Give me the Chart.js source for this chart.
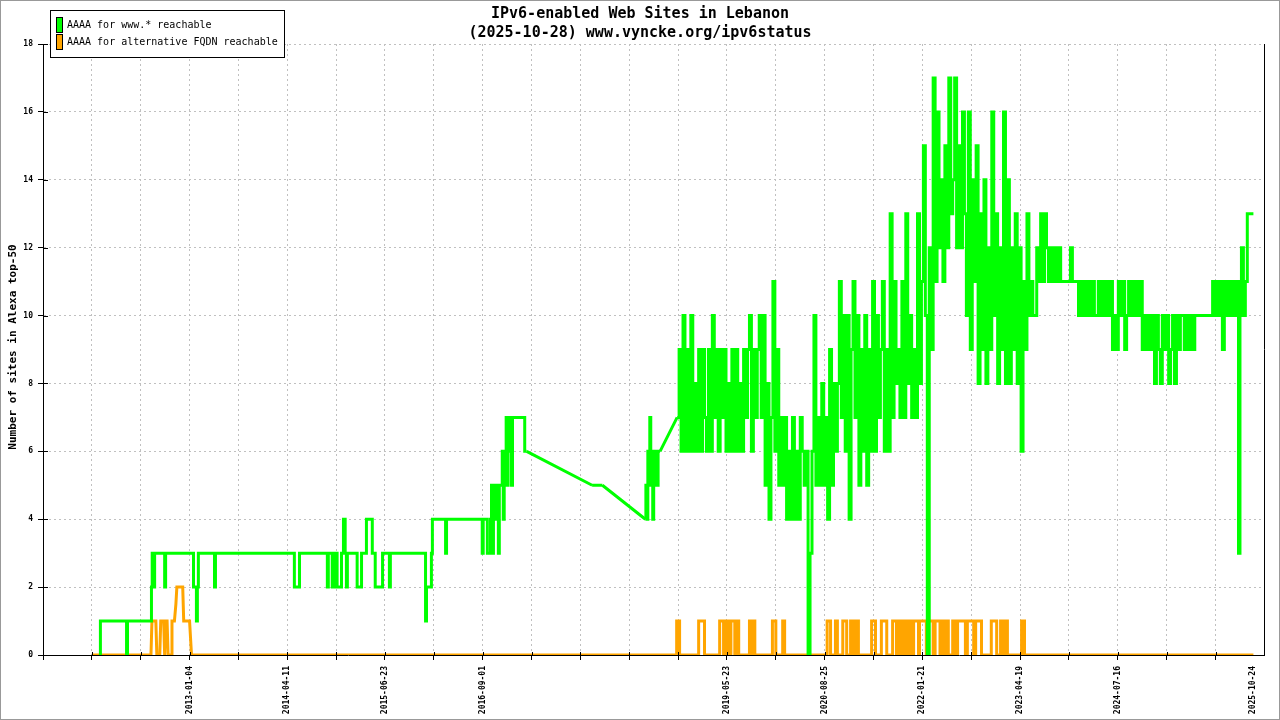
<!DOCTYPE html>
<html><head><meta charset="utf-8">
<script src="https://cdn.jsdelivr.net/npm/chart.js@4.4.1/dist/chart.umd.min.js"></script>
<style>html,body{margin:0;padding:0;background:#fff;}canvas{display:block;}</style>
</head><body>
<canvas id="c" width="1280" height="720"></canvas>
<script>
const titleLines = ['IPv6-enabled Web Sites in Lebanon', '(2025-10-28) www.vyncke.org/ipv6status'];
const yAxisTitle = 'Number of sites in Alexa top-50';
const seriesLabels = ['AAAA for www.* reachable', 'AAAA for alternative FQDN reachable'];
const seriesColors = ['#00ff00', '#ffa500'];
const xTickValues = [30, 50, 70, 90, 140, 160, 180, 200, 220, 247.75];
const xTickLabels = ['2013-01-04', '2014-04-11', '2015-06-23', '2016-09-01', '2019-05-23', '2020-08-25', '2022-01-21', '2023-04-19', '2024-07-16', '2025-10-24'];

// x positions (in axis units) after which the record has a gap (drawn as a straight line)
const wwwGapStarts = [99.0, 112.4, 114.5, 126.3];

const wwwReachable = [
[11.6,0],[11.9,1],[17.0,1],[17.2,0],[17.4,1],[22.1,1],[22.3,2],[22.4,3],[22.5,2],[22.7,3],[22.8,2],[22.9,3],[24.8,3],[25.0,2],[25.2,3],
[30.7,3],[30.9,2],[31.3,2],[31.5,1],[31.7,2],[31.9,3],[35.0,3],[35.2,2],[35.4,3],[51.3,3],[51.6,2],[52.4,2],[52.6,3],
[58.1,3],[58.3,2],[58.5,3],[59.1,3],[59.3,2],[59.5,3],[59.9,2],[60.1,3],[60.3,2],[60.9,2],[61.3,3],[61.7,4],[62.0,3],[62.2,2],[62.4,3],
[64.2,3],[64.4,2],[65.1,2],[65.3,3],[66.1,3],[66.3,4],[67.3,4],[67.5,3],[67.9,3],[68.1,2],[69.4,2],[69.6,3],[70.8,3],[71.0,2],[71.2,3],
[78.2,3],[78.4,1],[78.6,2],[79.4,2],[79.6,3],[79.8,4],[82.3,4],[82.5,3],[82.7,4],[89.8,4],[90.0,3],[90.2,4],[90.9,4],[91.0,3],[91.5,3],
[91.7,4],[91.9,5],[92.1,3],[92.3,5],[92.7,5],[92.9,4],[93.1,5],[93.3,3],[93.5,5],[93.9,5],[94.1,6],[94.3,4],[94.5,6],[94.7,5],[94.9,7],
[95.1,5],[95.3,7],[95.5,6],[95.8,7],[96.0,5],[96.2,7],[98.5,7],[98.7,6],[99.0,6],[112.4,5],[114.5,5],[123.3,4],[123.5,5],[123.7,4],
[123.9,6],[124.1,5],[124.3,7],[124.5,5],[124.7,6],[124.9,4],[125.1,6],[125.3,5],[125.5,6],[125.7,5],[126.1,6],[126.3,6],[129.8,7],
[130,7],[130.4,9],[130.8,6],[131.2,10],[131.6,6],[132,9],[132.4,6],[132.8,10],[133.2,6],[133.6,8],
[134,6],[134.4,9],[134.8,6],[135.2,9],[135.6,7],[136,6],[136.4,9],[136.8,6],[137.2,10],[137.6,7],
[138,9],[138.4,6],[138.8,9],[139.2,7],[139.6,9],[140,6],[140.4,8],[140.8,6],[141.2,9],[141.6,6],
[142,9],[142.4,6],[142.8,8],[143.2,6],[143.6,9],[144,7],[144.4,9],[144.8,10],[145.2,6],[145.6,9],
[146,7],[146.4,9],[146.8,10],[147.2,7],[147.6,10],[148,5],[148.4,8],[148.8,4],[149.2,7],[149.6,11],
[150,6],[150.4,9],[150.8,5],[151.2,7],[151.6,5],[152,7],[152.4,4],[152.8,6],[153.2,4],[153.6,7],
[154,4],[154.4,6],[154.8,4],[155.2,7],[155.6,6],[156,5],[156.4,6],[156.8,0],[157.2,3],[157.6,6],
[158,10],[158.4,5],[158.8,7],[159.2,5],[159.6,8],[160,5],[160.4,7],[160.8,4],[161.2,9],[161.6,5],
[162,8],[162.4,6],[162.8,8],[163.2,11],[163.6,7],[164,10],[164.4,6],[164.8,10],[165.2,4],[165.6,9],
[166,11],[166.4,7],[166.8,10],[167.2,5],[167.6,9],[168,6],[168.4,10],[168.8,5],[169.2,9],[169.6,6],
[170,11],[170.4,6],[170.8,10],[171.2,7],[171.6,9],[172,11],[172.4,6],[172.8,9],[173.2,6],[173.6,13],
[174,7],[174.4,11],[174.8,8],[175.2,9],[175.6,7],[176,11],[176.4,7],[176.8,13],[177.2,8],[177.6,10],
[178,7],[178.4,9],[178.8,7],[179.2,13],[179.6,8],[180,11],[180.4,15],[180.8,10],[181.2,0],[181.6,12],
[182,9],[182.4,17],[182.8,11],[183.2,16],[183.6,12],[184,14],[184.4,11],[184.8,15],[185.2,12],[185.6,17],
[186,13],[186.4,14],[186.8,17],[187.2,12],[187.6,15],[188,12],[188.4,16],[188.8,13],[189.2,10],[189.6,16],
[190,9],[190.4,14],[190.8,11],[191.2,15],[191.6,8],[192,13],[192.4,9],[192.8,14],[193.2,8],[193.6,12],
[194,9],[194.4,16],[194.8,10],[195.2,13],[195.6,8],[196,12],[196.4,9],[196.8,16],[197.2,8],[197.6,14],
[198,8],[198.4,12],[198.8,9],[199.2,13],[199.6,8],[200,12],[200.4,6],[200.8,11],[201.2,9],[201.6,13],
[202,10],[202.4,11],[202.8,10],[203.2,10],[203.6,12],[204,11],[204.4,13],[204.8,11],[205.2,13],[205.6,12],
[206,11],[206.4,12],[206.8,11],[207.2,12],[207.6,11],
[208.1,12],[208.5,11],[210.1,11],[210.5,12],[210.9,11],[211.7,11],[212.2,10],[212.6,11],[213.0,10],[213.4,11],[213.8,10],[214.2,11],
[214.6,10],[215.0,11],[215.4,10],[215.8,10],[216.2,11],[216.7,10],[217.1,11],[217.5,10],[217.9,11],[218.3,10],[218.7,11],[219.1,9],
[219.5,10],[219.9,9],[220.3,11],[220.7,10],[221.2,11],[221.6,9],[222.0,10],[222.4,11],[222.8,10],[223.2,11],[223.6,10],[224.0,11],
[224.4,10],[224.8,11],[225.2,9],[225.7,10],[226.1,9],[226.5,10],[226.9,9],[227.3,10],[227.7,8],[228.1,10],[228.5,9],[228.9,8],
[229.3,10],[229.7,9],[230.2,10],[230.6,8],[231.0,9],[231.4,10],[231.8,8],[232.2,10],[232.6,9],[233.0,10],[233.4,10],[233.8,9],
[234.2,10],[234.7,9],[235.1,10],[235.5,9],[236.0,10],[239.2,10],[239.6,11],[240.0,10],[240.4,11],[240.8,10],[241.2,11],[241.6,9],
[242.0,11],[242.4,10],[242.8,11],[243.2,10],[243.7,11],[244.1,10],[244.5,11],[244.9,3],[245.1,10],[245.5,12],[245.9,10],[246.3,11],
[246.7,13],[247.1,13],[247.75,13]
];

const altReachable = [
[10,0],[22.1,0],[22.3,1],[23.1,1],[23.3,0],[23.9,0],[24.1,1],[24.7,1],[24.9,0],[25.1,1],[25.4,1],[25.6,0],[26.2,0],[26.4,1],[26.9,1],
[27.2,1.5],[27.4,2],[28.6,2],[28.8,1],[30.0,1],[30.2,0.5],[30.4,0],
[129.7,0],[129.7,1],[130.3,1],[130.3,0],
[134.2,0],[134.2,1],[135.4,1],[135.4,0],
[138.5,0],[138.5,1],[139.3,1],[139.3,0],
[139.7,0],[139.7,1],[140.3,1],[140.3,0],
[140.8,0],[140.8,1],[141.6,1],[141.6,0],
[141.8,0],[141.8,1],[142.4,1],[142.4,0],
[144.6,0],[144.6,1],[145.0,1],[145.0,0],
[145.3,0],[145.3,1],[145.7,1],[145.7,0],
[149.3,0],[149.3,1],[150.0,1],[150.0,0],
[151.4,0],[151.4,1],[151.8,1],[151.8,0],
[160.5,0],[160.5,1],[161.2,1],[161.2,0],
[162.2,0],[162.2,1],[162.6,1],[162.6,0],
[163.7,0],[163.7,1],[164.5,1],[164.5,0],
[165.3,0],[165.3,1],[165.9,1],[165.9,0],
[166.5,0],[166.5,1],[166.9,1],[166.9,0],
[169.6,0],[169.6,1],[170.4,1],[170.4,0],
[171.6,0],[171.6,1],[172.7,1],[172.7,0],
[173.9,0],[173.9,1],[174.7,1],[174.7,0],
[175.3,0],[175.3,1],[175.9,1],[175.9,0],
[176.1,0],[176.1,1],[176.7,1],[176.7,0],
[177.2,0],[177.2,1],[177.8,1],[177.8,0],
[178.2,0],[178.2,1],[179.2,1],[179.2,0],
[179.4,0],[179.4,1],[180.8,1],[180.8,0],
[181.2,0],[181.2,1],[182.2,1],[182.2,0],
[182.6,0],[182.6,1],[183.6,1],[183.6,0],
[184.1,0],[184.1,1],[184.3,1],[184.3,0],
[184.7,0],[184.7,1],[185.3,1],[185.3,0],
[186.2,0],[186.2,1],[186.8,1],[186.8,0],
[187.2,0],[187.2,1],[188.8,1],[188.8,0],
[189.2,0],[189.2,1],[190.5,1],[190.5,0],
[190.9,0],[190.9,1],[192.1,1],[192.1,0],
[194.1,0],[194.1,1],[195.2,1],[195.2,0],
[196.0,0],[196.0,1],[196.4,1],[196.4,0],
[197.0,0],[197.0,1],[197.4,1],[197.4,0],
[200.3,0],[200.3,1],[200.9,1],[200.9,0],
[247.75,0]
];

const MONO = '"DejaVu Sans Mono", "Liberation Mono", monospace';
const LAST_TICK = xTickValues[xTickValues.length - 1];
const CLEAR = 'rgba(0,0,0,0)';

// daily samples: drawn as steps; gaps in the record: straight bridging lines
const wwwStepData = [];
const wwwBridgeData = [];
wwwReachable.forEach(([x, y], i) => {
  wwwStepData.push({ x, y });
  if (wwwGapStarts.includes(x) && i + 1 < wwwReachable.length) {
    wwwStepData.push({ x: x + 0.001, y: null });
    const [nx, ny] = wwwReachable[i + 1];
    wwwBridgeData.push({ x, y }, { x: nx, y: ny }, { x: nx + 0.001, y: null });
  }
});

const overlay = {
  id: 'overlay',
  beforeDraw(chart) {
    const c = chart.ctx;
    c.save();
    c.fillStyle = '#fff';
    c.fillRect(0, 0, chart.width, chart.height);
    c.restore();
  },
  afterDraw(chart) {
    const c = chart.ctx;
    const a = chart.chartArea;
    const xs = chart.scales.x, ys = chart.scales.y;
    c.save();
    c.strokeStyle = '#000'; c.lineWidth = 1;
    c.beginPath(); c.moveTo(Math.round(a.right) + 0.5, a.top); c.lineTo(Math.round(a.right) + 0.5, a.bottom); c.stroke();
    c.beginPath();
    ys.ticks.forEach(t => { const p = Math.round(ys.getPixelForValue(t.value)) + 0.5; c.moveTo(a.left, p); c.lineTo(a.left + 5, p); });
    xs.ticks.forEach(t => { if (t.value === LAST_TICK || t.value === 250) return; const p = Math.round(xs.getPixelForValue(t.value)) + 0.5; c.moveTo(p, a.bottom); c.lineTo(p, a.bottom - 3); });
    c.stroke();
    c.fillStyle = '#000';
    c.font = 'bold 15px ' + MONO;
    c.textAlign = 'center'; c.textBaseline = 'middle';
    c.fillText(titleLines[0], 640, 14);
    c.fillText(titleLines[1], 640, 33);
    c.save();
    c.translate(13, 347);
    c.rotate(-Math.PI / 2);
    c.font = 'bold 11px ' + MONO;
    c.fillText(yAxisTitle, 0, 0);
    c.restore();
    c.fillStyle = '#fff';
    c.fillRect(50, 10, 234, 47);
    c.strokeStyle = '#000'; c.lineWidth = 1;
    c.strokeRect(50.5, 10.5, 234, 47);
    c.font = '10px ' + MONO;
    c.textAlign = 'left'; c.textBaseline = 'middle';
    seriesLabels.forEach((label, i) => {
      const y0 = 17 + i * 17;
      c.fillStyle = seriesColors[i];
      c.fillRect(56, y0, 6, 15);
      c.strokeStyle = '#000';
      c.strokeRect(56.5, y0 + 0.5, 6, 15);
      c.fillStyle = '#000';
      c.fillText(label, 67, y0 + 8);
    });
    c.strokeStyle = '#999';
    c.strokeRect(0.5, 0.5, chart.width - 1, chart.height - 1);
    c.restore();
  }
};

new Chart(document.getElementById('c'), {
  type: 'line',
  data: {
    datasets: [
      { label: seriesLabels[0], data: wwwStepData, borderColor: seriesColors[0], backgroundColor: seriesColors[0],
        borderWidth: 3, pointRadius: 0, stepped: 'middle', spanGaps: false, fill: false },
      { label: seriesLabels[0] + ' (gap)', data: wwwBridgeData, borderColor: seriesColors[0], backgroundColor: seriesColors[0],
        borderWidth: 3, pointRadius: 0, tension: 0, spanGaps: false, fill: false },
      { label: seriesLabels[1], data: altReachable.map(([x, y]) => ({ x, y })), borderColor: seriesColors[1], backgroundColor: seriesColors[1],
        borderWidth: 3, pointRadius: 0, borderJoinStyle: 'miter', tension: 0, fill: false }
    ]
  },
  options: {
    responsive: false, animation: false, devicePixelRatio: 1,
    layout: { padding: { left: 0, right: 15, top: 44, bottom: 0 } },
    plugins: { legend: { display: false }, title: { display: false }, tooltip: { enabled: false } },
    scales: {
      x: {
        type: 'linear', min: 0, max: 250,
        afterBuildTicks(scale) {
          const vals = [];
          for (let v = 0; v <= 250; v += 10) vals.push(v);
          vals.push(LAST_TICK);
          vals.sort((p, q) => p - q);
          scale.ticks = vals.map(v => ({ value: v }));
        },
        afterFit(scale) { scale.height = 65; },
        ticks: {
          autoSkip: false, maxRotation: 90, minRotation: 90, padding: 6, color: '#000',
          font: { family: MONO, size: 8, weight: 'bold' },
          callback(value) { const i = xTickValues.indexOf(value); return i >= 0 ? xTickLabels[i] : ''; }
        },
        grid: {
          color(ctx) { const v = ctx.tick ? ctx.tick.value : null; return (v === 0 || v === 250 || v === LAST_TICK) ? CLEAR : '#c0c0c0'; },
          tickColor(ctx) { const v = ctx.tick ? ctx.tick.value : null; return (v === LAST_TICK || v === 250) ? CLEAR : '#000'; },
          lineWidth: 1, tickLength: 5, drawTicks: true
        },
        border: { display: true, color: '#000', width: 1, dash: [2, 3] }
      },
      y: {
        min: 0, max: 18,
        afterFit(scale) { scale.width = 43; },
        ticks: { stepSize: 2, padding: 5, color: '#000', font: { family: MONO, size: 8, weight: 'bold' } },
        grid: {
          color(ctx) { return ctx.tick && ctx.tick.value === 0 ? CLEAR : '#c0c0c0'; },
          tickColor: '#000', lineWidth: 1, tickLength: 5
        },
        border: { display: true, color: '#000', width: 1, dash: [2, 3] }
      }
    }
  },
  plugins: [overlay]
});
</script>
</body></html>
